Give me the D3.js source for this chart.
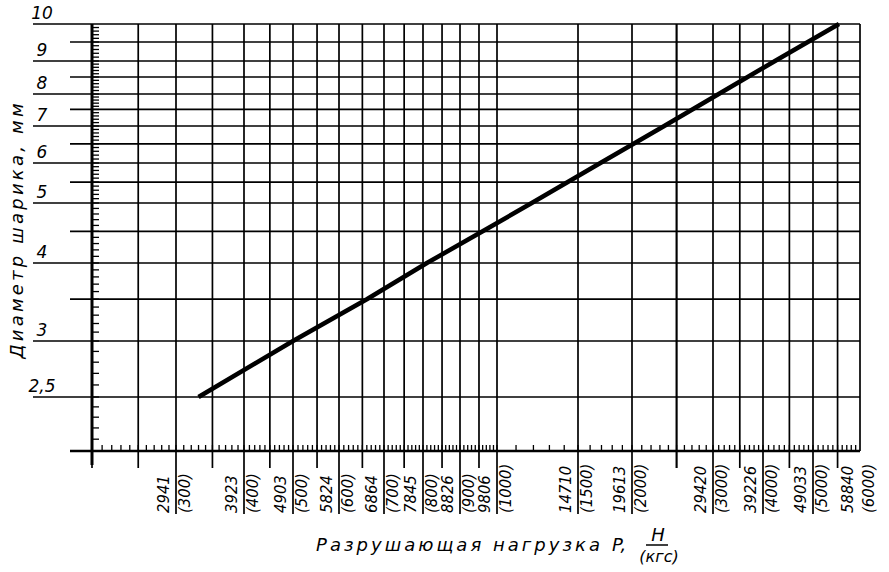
<!DOCTYPE html>
<html>
<head>
<meta charset="utf-8">
<script src="https://cdn.jsdelivr.net/npm/d3@7"></script>
<style>
  body { margin: 0; background: #fff; }
  svg { display: block; }
</style>
</head>
<body>
<div id="chart"></div>
<script>
// data
const loadKgf = [300, 400, 500, 600, 700, 800, 900, 1000, 1500, 2000, 3000, 4000, 5000, 6000];
const loadNewton = ["2941", "3923", "4903", "5824", "6864", "7845", "8826", "9806", "14710", "19613", "29420", "39226", "49033", "58840"];
const diameterTicks = [10, 9, 8, 7, 6, 5, 4, 3, 2.5];
const diameterLabels = ["10", "9", "8", "7", "6", "5", "4", "3", "2,5"];
const ballDiameter = [2.5, 3, 3.5, 4, 4.5, 5, 6, 7, 8, 9, 10];
const breakingLoad = [330, 500, 660, 810, 960, 1190, 1690, 2350, 3100, 4220, 5530];

const width = 889;
const height = 572;
const margin = { top: 24, left: 92 };
const innerW = 768;
const innerH = 427;

// the printed load axis is hand-drawn, so it is calibrated piecewise (log between stops)
const xStops = [200, 300, 400, 500, 600, 700, 800, 900, 1000, 1500, 2000, 3000, 4000, 5000, 6000];
const xStopPos = [0, 84, 152, 201, 247, 292, 331, 368, 405, 486, 540, 621, 671, 721, 768];
const yStops = [2, 2.5, 3, 4, 5, 6, 7, 8, 9, 10];
const yStopPos = [427, 373, 317, 239, 179, 139, 102, 70, 37, 0];

const x = d3.scaleLog().domain(xStops).range(xStopPos);
const y = d3.scaleLog().domain(yStops).range(yStopPos);

const gridX = d3.range(200, 1000, 50).concat(d3.range(1000, 6001, 500)).concat([2500]);
const gridY = d3.range(2.5, 10.01, 0.5);
const minorX = d3.range(200, 1000, 10).concat(d3.range(1000, 6000, 100));
const minorY = d3.range(2, 10, 0.1);

const svg = d3
  .select("#chart")
  .append("svg")
  .attr("width", width)
  .attr("height", height);

const g = svg
  .append("g")
  .attr("transform", `translate(${margin.left},${margin.top})`);

// horizontal grid, whole millimetres run out under the labels
g.append("g")
  .selectAll("line")
  .data(gridY)
  .join("line")
  .attr("x1", (d) => (Number.isInteger(d) || d === 2.5 ? -59 : -22))
  .attr("x2", innerW)
  .attr("y1", (d) => y(d))
  .attr("y2", (d) => y(d))
  .attr("stroke", "#000")
  .attr("stroke-width", 1.7);

// vertical grid
g.append("g")
  .selectAll("line")
  .data(gridX)
  .join("line")
  .attr("x1", (d) => x(d))
  .attr("x2", (d) => x(d))
  .attr("y1", 0)
  .attr("y2", (d) =>
    d === 6000 ? innerH : loadKgf.includes(d) ? innerH + 63 : innerH + 17
  )
  .attr("stroke", "#000")
  .attr("stroke-width", 1.7);

// minor ticks
g.append("g")
  .selectAll("line")
  .data(minorX)
  .join("line")
  .attr("x1", (d) => x(d))
  .attr("x2", (d) => x(d))
  .attr("y1", innerH)
  .attr("y2", innerH - 6)
  .attr("stroke", "#000")
  .attr("stroke-width", 1.3);

g.append("g")
  .selectAll("line")
  .data(minorY)
  .join("line")
  .attr("x1", 0)
  .attr("x2", 7)
  .attr("y1", (d) => y(d))
  .attr("y2", (d) => y(d))
  .attr("stroke", "#000")
  .attr("stroke-width", 1.3);

// axes
g.append("line")
  .attr("x1", -22)
  .attr("x2", innerW)
  .attr("y1", innerH)
  .attr("y2", innerH)
  .attr("stroke", "#000")
  .attr("stroke-width", 2.6);

g.append("line")
  .attr("x1", 0)
  .attr("x2", 0)
  .attr("y1", 0)
  .attr("y2", innerH + 14)
  .attr("stroke", "#000")
  .attr("stroke-width", 3);

// the curve
const line = d3
  .line()
  .x((d) => x(d[1]))
  .y((d) => y(d[0]));

g.append("path")
  .datum(d3.zip(ballDiameter, breakingLoad))
  .attr("fill", "none")
  .attr("stroke", "#000")
  .attr("stroke-width", 4.5)
  .attr("stroke-linejoin", "round")
  .attr("d", line);

// diameter labels
g.append("g")
  .selectAll("text")
  .data(diameterTicks)
  .join("text")
  .attr("x", -50)
  .attr("y", (d) => y(d) - 5)
  .attr("text-anchor", "middle")
  .style("font", "italic 17px 'DejaVu Sans'")
  .text((d, i) => diameterLabels[i]);

// load labels, newton left of the line, kgf right of it
const tickFont = "oblique 16.5px 'DejaVu Sans Condensed', 'Liberation Sans Narrow', 'DejaVu Sans'";

g.append("g")
  .selectAll("text")
  .data(loadKgf)
  .join("text")
  .attr("transform", (d) => `translate(${x(d) - 13},${innerH + 62}) rotate(-90)`)
  .attr("dy", "0.35em")
  .style("font", tickFont)
  .text((d, i) => loadNewton[i]);

g.append("g")
  .selectAll("text")
  .data(loadKgf)
  .join("text")
  .attr("transform", (d) => `translate(${x(d) + 8},${innerH + 62}) rotate(-90)`)
  .attr("dy", "0.35em")
  .style("font", tickFont)
  .text((d) => `(${d})`);

// axis titles
svg
  .append("text")
  .attr("transform", "translate(23,231) rotate(-90)")
  .attr("text-anchor", "middle")
  .attr("textLength", 255)
  .attr("lengthAdjust", "spacing")
  .style("font", "italic 18px 'DejaVu Sans'")
  .text("Диаметр шарика, мм");

const xTitle = svg.append("g").style("font", "italic 18px 'DejaVu Sans'");

xTitle
  .append("text")
  .attr("x", 316)
  .attr("y", 551)
  .attr("textLength", 284)
  .attr("lengthAdjust", "spacing")
  .text("Разрушающая нагрузка");

xTitle.append("text").attr("x", 612).attr("y", 551).text("P,");

xTitle
  .append("text")
  .attr("x", 658)
  .attr("y", 541)
  .attr("text-anchor", "middle")
  .text("Н");

xTitle
  .append("line")
  .attr("x1", 646)
  .attr("x2", 668)
  .attr("y1", 545)
  .attr("y2", 545)
  .attr("stroke", "#000")
  .attr("stroke-width", 1.5);

xTitle
  .append("text")
  .attr("x", 659)
  .attr("y", 562)
  .attr("text-anchor", "middle")
  .style("font-size", "16px")
  .text("(кгс)");
</script>
</body>
</html>
